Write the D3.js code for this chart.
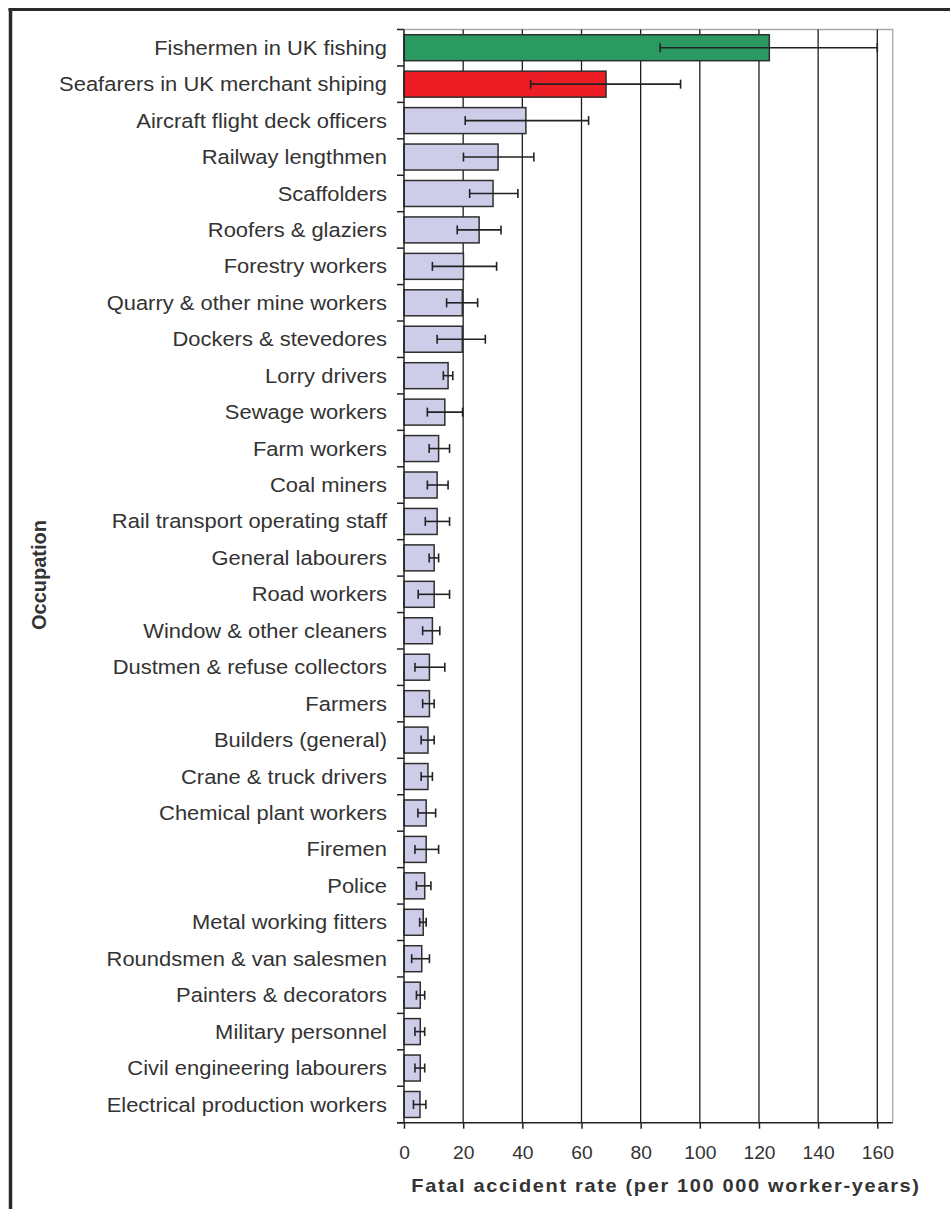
<!DOCTYPE html>
<html>
<head>
<meta charset="utf-8">
<script src="https://cdn.jsdelivr.net/npm/d3@7"></script>
<style>
  html, body { margin: 0; padding: 0; background: #fff; }
  svg { display: block; }
  text { font-family: "Liberation Sans", Arial, sans-serif; fill: #333; }
</style>
</head>
<body>
<svg id="chart" width="950" height="1209"></svg>
<script>
// Occupations, top to bottom
const occupations = [
  "Fishermen in UK fishing",
  "Seafarers in UK merchant shiping",
  "Aircraft flight deck officers",
  "Railway lengthmen",
  "Scaffolders",
  "Roofers & glaziers",
  "Forestry workers",
  "Quarry & other mine workers",
  "Dockers & stevedores",
  "Lorry drivers",
  "Sewage workers",
  "Farm workers",
  "Coal miners",
  "Rail transport operating staff",
  "General labourers",
  "Road workers",
  "Window & other cleaners",
  "Dustmen & refuse collectors",
  "Farmers",
  "Builders (general)",
  "Crane & truck drivers",
  "Chemical plant workers",
  "Firemen",
  "Police",
  "Metal working fitters",
  "Roundsmen & van salesmen",
  "Painters & decorators",
  "Military personnel",
  "Civil engineering labourers",
  "Electrical production workers"
];

// Fatal accident rate per 100 000 worker-years
const rates = [
  123.5, 68.3, 41.2, 31.8, 30.1, 25.4, 20.1, 19.7, 19.7, 14.9,
  13.8, 11.7, 11.2, 11.2, 10.2, 10.2, 9.6, 8.6, 8.6, 8.1,
  8.1, 7.5, 7.5, 7.0, 6.5, 6.0, 5.5, 5.5, 5.5, 5.4
];

// 95% confidence interval, lower and upper limits
const lower = [
  86.6, 42.8, 20.7, 20.1, 22.2, 18.0, 9.6, 14.4, 11.2, 13.3,
  7.9, 8.5, 7.9, 7.2, 8.5, 4.8, 6.3, 3.7, 6.3, 5.8,
  5.8, 4.7, 3.7, 4.2, 5.3, 2.6, 4.2, 3.7, 3.7, 3.2
];
const upper = [
  160, 93.5, 62.4, 43.9, 38.5, 32.8, 31.3, 24.9, 27.5, 16.5,
  19.8, 15.4, 14.9, 15.4, 11.7, 15.4, 12.1, 13.8, 10.2, 10.2,
  9.6, 10.7, 11.7, 9.1, 7.5, 8.6, 7.0, 7.0, 7.0, 7.4
];

const xTicks = [0, 20, 40, 60, 80, 100, 120, 140, 160];
const barColors = ["#2a9a62", "#ec1c24"];
const defaultBar = "#cdcde9";

const rows = occupations.map((name, i) => ({
  name, rate: rates[i], lo: lower[i], hi: upper[i],
  fill: barColors[i] || defaultBar
}));

const svg = d3.select("#chart");
const wideTicks = 1.1;   // horizontal stretch of tick labels
const wideLabels = 1.125; // horizontal stretch of category labels

// outer frame (top and left edges)
svg.append("line").attr("x1", 8.5).attr("x2", 950).attr("y1", 9.5).attr("y2", 9.5)
  .attr("stroke", "#2a2a2a").attr("stroke-width", 3);
svg.append("line").attr("x1", 10.5).attr("x2", 10.5).attr("y1", 8).attr("y2", 1209)
  .attr("stroke", "#2a2a2a").attr("stroke-width", 3.5);

const plot = { left: 404, right: 892.7, top: 29.5, bottom: 1122.7 };

const x = d3.scaleLinear()
  .domain([0, 160])
  .range([plot.left, 877.3]);

const y = d3.scaleBand()
  .domain(occupations)
  .range([plot.top, plot.bottom])
  .paddingInner(0.287)
  .paddingOuter(0.1435);

// plot area frame (light top and right edges)
svg.append("path")
  .attr("d", `M${plot.left},${plot.top}H${plot.right}V${plot.bottom}`)
  .attr("fill", "none").attr("stroke", "#a8a8a8").attr("stroke-width", 1.3);

// vertical gridlines
svg.append("g").selectAll("line")
  .data(xTicks.filter(t => t > 0))
  .join("line")
  .attr("x1", d => x(d)).attr("x2", d => x(d))
  .attr("y1", plot.top).attr("y2", plot.bottom)
  .attr("stroke", "#1e1e1e").attr("stroke-width", 1.3);

// bars
svg.append("g").selectAll("rect")
  .data(rows)
  .join("rect")
  .attr("x", x(0))
  .attr("y", d => y(d.name))
  .attr("width", d => x(d.rate) - x(0))
  .attr("height", y.bandwidth())
  .attr("fill", d => d.fill)
  .attr("stroke", "#2f2f2f")
  .attr("stroke-width", 1.5);

// error bars
const capH = 9;
const err = svg.append("g").attr("stroke", "#222").attr("stroke-width", 1.6);
rows.forEach(d => {
  const cy = y(d.name) + y.bandwidth() / 2;
  err.append("line").attr("x1", x(d.lo)).attr("x2", x(d.hi)).attr("y1", cy).attr("y2", cy);
  err.append("line").attr("x1", x(d.lo)).attr("x2", x(d.lo)).attr("y1", cy - capH / 2).attr("y2", cy + capH / 2);
  err.append("line").attr("x1", x(d.hi)).attr("x2", x(d.hi)).attr("y1", cy - capH / 2).attr("y2", cy + capH / 2);
});

// bottom axis
const xAxis = d3.axisBottom(x).tickValues(xTicks).tickSize(6).tickPadding(18);
const gx = svg.append("g").attr("transform", `translate(0,${plot.bottom})`).call(xAxis);
gx.select(".domain").remove();
gx.append("line").attr("x1", plot.left - 7).attr("x2", plot.right)
  .attr("y1", 0).attr("y2", 0).attr("stroke", "#222").attr("stroke-width", 1.5);
gx.selectAll(".tick line").attr("stroke", "#222").attr("stroke-width", 1.5);
gx.selectAll(".tick text")
  .attr("font-size", 17.5).attr("fill", "#333")
  .attr("transform", `scale(${wideTicks},1)`)
  .style("font-family", "'Liberation Sans', Arial, sans-serif");

// left axis: line, ticks between categories, labels
svg.append("line").attr("x1", plot.left).attr("x2", plot.left)
  .attr("y1", plot.top).attr("y2", plot.bottom)
  .attr("stroke", "#222").attr("stroke-width", 1.5);

const step = y.step();
const boundaries = d3.range(occupations.length + 1).map(i => plot.top + i * step);
svg.append("g").selectAll("line")
  .data(boundaries)
  .join("line")
  .attr("x1", plot.left - 7).attr("x2", plot.left)
  .attr("y1", d => d).attr("y2", d => d)
  .attr("stroke", "#222").attr("stroke-width", 1.5);

svg.append("g").selectAll("text")
  .data(occupations)
  .join("text")
  .attr("transform", d => `translate(387,${y(d) + y.bandwidth() / 2}) scale(${wideLabels},1)`)
  .attr("dy", "0.36em")
  .attr("text-anchor", "end")
  .attr("font-size", 19.5)
  .text(d => d);

// axis titles
svg.append("text")
  .attr("transform", "translate(666,1192) scale(1.11,1)")
  .attr("text-anchor", "middle")
  .attr("font-size", 18).attr("font-weight", "bold")
  .attr("letter-spacing", 1.5)
  .text("Fatal accident rate (per 100 000 worker-years)");

svg.append("text")
  .attr("transform", "translate(46,575) rotate(-90)")
  .attr("text-anchor", "middle")
  .attr("font-size", 20).attr("font-weight", "bold")
  .text("Occupation");
</script>
</body>
</html>
